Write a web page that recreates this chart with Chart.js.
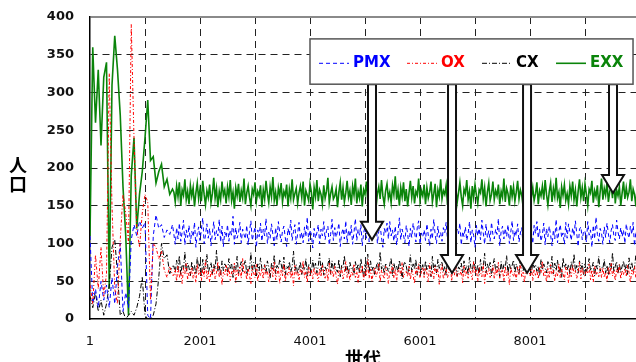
<!DOCTYPE html>
<html><head><meta charset="utf-8">
<script src="https://cdn.jsdelivr.net/npm/chart.js@4"></script>
<style>html,body{margin:0;padding:0;background:#fff;overflow:hidden}canvas{display:block}</style>
</head><body>
<canvas id="c" width="636" height="362"></canvas>
<script>
// ---- data ----
// early phase: one sample every 50 generations from generation 1
// settled phase: one sample every 25 generations from generation 1526
const EARLY_START = 1, EARLY_STEP = 50;
const LATE_START = 1526, LATE_STEP = 25;
const seriesNames = ['PMX', 'OX', 'CX', 'EXX'];

const pmxEarly = [110,20,40,15,50,25,45,15,55,20,70,100,10,35,15,105,125,110,130,120,128,5,0,110,138,120,125,108,118,112,125];
const oxEarly  = [45,20,85,40,95,30,60,325,150,40,20,105,165,140,100,390,240,120,95,140,165,155,25,100,95,80,90,65,55,70,58];
const cxEarly  = [30,15,35,10,25,5,20,45,95,105,60,5,10,0,5,10,5,15,30,55,5,0,0,5,20,55,100,80,85,60,70];
const exxEarly = [110,360,260,330,230,320,340,40,310,375,330,270,175,110,5,190,240,120,165,195,240,290,210,215,180,195,205,175,185,165,172];

const pmxLate = [
112,99,121,106,127,103,115,131,98,118,108,124,101,
116,109,128,95,113,122,104,119,134,100,111,126,107,
120,97,114,129,105,117,110,132,102,123,96,115,108,
125,103,118,111,136,99,121,107,114,128,101,119,112,
106,124,98,116,130,104,113,122,95,118,109,127,103,
119,110,133,100,115,107,126,112,97,121,105,129,114,
102,117,123,108,96,120,111,131,104,116,125,99,113,
128,106,115,101,122,109,135,103,118,112,94,120,107,
114,125,100,119,110,129,105,117,123,98,112,132,104,
121,108,116,127,96,113,120,106,130,101,118,109,124,
99,115,133,104,119,111,125,97,114,122,107,128,102,
117,105,121,112,131,100,116,124,108,95,120,113,127,
106,129,110,118,103,123,98,115,134,105,119,111,101,
124,113,96,120,108,127,116,102,121,130,99,114,109,
118,104,126,111,97,119,106,132,112,100,123,108,115,
103,121,114,128,105,117,125,99,110,136,107,119,113,
127,98,116,109,122,104,113,129,101,118,111,95,124,
110,120,105,131,114,99,126,108,117,103,128,112,106,
119,112,133,97,116,123,106,120,109,125,100,115,130,
104,117,110,126,102,114,121,96,118,111,134,105,122,
115,100,124,113,129,107,119,103,112,127,98,120,109,
123,111,97,118,106,132,101,116,125,108,114,99,128,
107,126,115,104,121,110,130,113,96,119,122,105,117,
116,102,129,111,118,95,124,106,135,112,103,120,114,
99,122,108,127,113,101,117,125,110,104,131,115,106,
121,109,118,100,126,114,107,123,112,128,97,116,111];

const oxLate = [
58,66,50,71,55,63,47,68,60,74,52,61,57,
69,54,62,48,73,59,65,51,67,56,78,53,63,
49,64,57,70,53,61,76,55,66,45,62,58,72,
56,68,51,63,59,74,48,65,57,69,54,80,60,
64,52,67,58,46,70,61,55,73,50,63,57,66,
53,71,59,64,49,62,68,56,75,52,60,67,47,
65,57,73,50,62,58,69,54,64,44,71,59,63,
51,66,60,77,55,63,48,70,57,65,53,68,58,
62,49,67,56,72,60,54,66,50,74,58,63,55,
70,57,46,64,59,68,53,61,76,55,65,51,62,
58,73,55,63,48,67,60,71,52,64,57,79,54,
66,50,61,69,56,62,74,49,65,58,53,70,60,
47,64,59,72,54,66,51,63,68,57,75,55,61,
63,56,70,52,65,58,47,67,60,73,54,62,69,
55,68,61,49,74,57,64,53,70,59,66,46,63,
72,53,60,67,55,62,78,50,65,58,69,56,61,
59,65,48,71,57,63,54,68,61,52,76,60,66,
50,69,62,56,73,47,64,59,67,55,62,71,53,
67,58,75,54,61,66,50,70,57,64,45,68,60,
56,63,52,69,59,74,55,62,48,71,60,65,57,
70,51,66,58,64,53,68,61,77,56,63,49,67,
54,72,59,65,50,62,57,73,55,66,60,52,69,
63,48,67,56,71,60,64,54,62,75,53,68,58,
57,66,61,73,52,65,49,70,59,63,56,67,55,
68,55,62,50,69,58,74,57,64,51,66,60,72,
53,64,59,67,56,71,62,48,65,58,70,54,61];

const cxLate = [
70,61,78,65,84,58,72,66,89,62,74,68,57,
76,64,71,59,82,67,73,56,79,65,70,86,61,
68,75,60,72,66,91,63,70,58,77,64,73,69,
62,80,67,74,55,71,65,83,60,69,76,63,72,
78,59,70,66,88,62,75,68,57,73,64,81,67,
65,72,61,77,69,54,74,66,85,60,71,67,79,
73,63,82,58,70,67,76,62,69,90,64,72,60,
67,76,59,71,65,80,57,73,68,62,78,66,74,
61,70,87,63,75,58,69,64,72,81,60,77,65,
74,66,62,79,56,71,68,84,63,70,59,75,67,
69,58,76,65,73,61,80,67,55,72,66,86,62,
77,64,70,59,68,75,63,89,66,71,60,74,68,
63,72,81,57,74,65,70,62,78,67,53,71,76,
70,60,67,85,62,73,66,79,58,69,75,64,72,
59,77,64,71,68,56,83,65,72,61,79,67,74,
75,63,70,58,80,66,73,60,88,64,71,57,69,
66,74,61,77,65,71,59,82,68,63,76,70,62,
72,58,79,64,69,87,61,73,66,75,57,71,80,
64,70,67,56,76,63,72,68,84,60,74,65,71,
78,61,73,66,59,82,69,64,71,77,62,90,67,
60,75,68,72,63,70,57,79,65,73,67,61,76,
71,66,83,60,74,64,78,62,70,55,81,68,73,
65,72,59,76,67,86,63,71,61,77,66,74,58,
73,62,70,80,64,68,75,57,72,66,83,63,69,
67,79,61,71,58,74,65,88,62,70,76,60,73,
62,70,77,64,72,59,81,66,75,63,68,85,66];

const exxLate = [
168,155,176,162,181,150,171,164,185,158,169,152,177,
163,174,149,167,180,159,172,156,183,165,151,170,161,
178,154,166,187,160,173,148,169,158,182,164,171,153,
175,162,184,157,168,146,174,163,179,155,170,160,186,
152,167,176,161,150,172,165,181,156,169,163,177,148,
171,159,183,166,154,175,162,188,157,168,151,174,164,
180,155,169,163,178,149,172,160,185,158,166,173,153,
167,176,161,182,150,170,164,157,179,168,145,174,162,
184,156,171,165,152,177,160,169,187,154,166,175,159,
163,172,148,168,181,158,174,155,167,183,161,170,151,
176,164,186,153,169,160,178,149,171,165,182,157,168,
155,173,162,180,147,166,175,159,184,163,152,170,179,
160,168,154,177,165,189,158,171,150,174,162,181,156,
172,149,167,183,161,176,153,169,164,186,157,170,163,
178,152,174,160,168,182,155,166,179,148,171,162,185,
159,170,165,177,151,173,163,187,156,168,175,154,167,
181,162,150,172,166,184,158,169,146,176,161,178,164,
153,171,167,185,160,174,149,168,180,157,165,182,158,
170,163,178,152,169,161,186,155,173,166,150,177,162,
175,156,168,183,159,171,164,148,179,167,154,172,188,
161,174,157,166,181,152,170,163,176,158,184,165,151,
169,180,155,173,162,187,160,168,147,175,164,178,157,
166,152,176,163,182,158,171,149,169,185,161,174,156,
179,165,150,172,167,183,154,170,162,177,148,168,186,
158,173,164,181,155,169,176,160,188,153,171,163,175,
150,167,182,159,174,161,168,185,156,172,165,149,179];

const xTickValues = [1,1001,2001,3001,4001,5001,6001,7001,8001,9001];
const xTickLabels = ['1','','2001','','4001','','6001','','8001',''];
const yTickValues = [0,50,100,150,200,250,300,350,400];

const xTitle = '世代';
const yTitle = ['人', '口'];

// ---- annotation placement (data coordinates) ----
const legendBox = {x0: 4001, x1: 9874, yTop: 371, yBottom: 311, yMid: 340};
const legendSampleX = [4165, 5765, 7128, 8474];
const arrows = [{x: 5128, tip: 105}, {x: 6583, tip: 61}, {x: 7947, tip: 61}, {x: 9510, tip: 167}];

// ---- styles ----
const colors = ['#0000ff', '#ff0000', '#000000', '#0a840a'];
const dashes = [[4,3], [3,2,1,2], [5,2,1,2], []];
const widths = [1, 1, 1, 1.6];

const seriesEarly = [pmxEarly, oxEarly, cxEarly, exxEarly];
const seriesLate = [pmxLate, oxLate, cxLate, exxLate];

function toPoints(early, late) {
  const pts = early.map((v, i) => ({x: EARLY_START + i * EARLY_STEP, y: v}));
  late.forEach((v, j) => pts.push({x: LATE_START + j * LATE_STEP, y: v}));
  return pts;
}

const datasets = seriesNames.map((name, k) => ({
  label: name,
  data: toPoints(seriesEarly[k], seriesLate[k]),
  borderColor: colors[k],
  borderWidth: widths[k],
  borderDash: dashes[k],
  pointRadius: 0,
  tension: 0,
  fill: false,
  order: [1, 0, 2, 3][k]
}));

const annot = {
  id: 'annot',
  afterDatasetsDraw(chart) {
    const ctx = chart.ctx, xs = chart.scales.x, ys = chart.scales.y;
    const bl = xs.getPixelForValue(legendBox.x0), br = xs.getPixelForValue(legendBox.x1);
    const bt = ys.getPixelForValue(legendBox.yTop), bb = ys.getPixelForValue(legendBox.yBottom);
    ctx.save();
    arrows.forEach(a => {
      const c = xs.getPixelForValue(a.x), tip = ys.getPixelForValue(a.tip);
      const sw = 4, hw = 11, hh = 18, top = bb;
      ctx.beginPath();
      ctx.moveTo(c - sw, top);
      ctx.lineTo(c + sw, top);
      ctx.lineTo(c + sw, tip - hh);
      ctx.lineTo(c + hw, tip - hh);
      ctx.lineTo(c, tip);
      ctx.lineTo(c - hw, tip - hh);
      ctx.lineTo(c - sw, tip - hh);
      ctx.closePath();
      ctx.fillStyle = '#fff';
      ctx.fill();
      ctx.lineWidth = 2;
      ctx.strokeStyle = '#111';
      ctx.setLineDash([]);
      ctx.stroke();
    });
    ctx.fillStyle = '#fff';
    ctx.fillRect(bl, bt, br - bl, bb - bt);
    ctx.lineWidth = 1.5;
    ctx.strokeStyle = '#555';
    ctx.strokeRect(bl, bt, br - bl, bb - bt);
    const ym = ys.getPixelForValue(legendBox.yMid);
    ctx.font = 'bold 15px "DejaVu Sans"';
    ctx.textBaseline = 'middle';
    ctx.textAlign = 'left';
    chart.data.datasets.forEach((ds, k) => {
      const sx = xs.getPixelForValue(legendSampleX[k]);
      ctx.beginPath();
      ctx.setLineDash(ds.borderDash);
      ctx.lineWidth = ds.borderWidth;
      ctx.strokeStyle = ds.borderColor;
      ctx.moveTo(sx, ym + 1);
      ctx.lineTo(sx + 30, ym + 1);
      ctx.stroke();
      ctx.setLineDash([]);
      ctx.fillStyle = ds.borderColor;
      ctx.fillText(ds.label, sx + 34, ym + 1);
    });
    ctx.restore();
  },
  afterDraw(chart) {
    const ctx = chart.ctx, area = chart.chartArea;
    ctx.save();
    ctx.fillStyle = '#000';
    ctx.font = 'bold 18px "Noto Sans CJK JP"';
    ctx.textAlign = 'center';
    ctx.textBaseline = 'middle';
    ctx.fillText(yTitle[0], 18, 165);
    ctx.fillText(yTitle[1], 18, 184);
    ctx.fillText(xTitle, (area.left + area.right) / 2, 358);
    ctx.restore();
  }
};

new Chart(document.getElementById('c'), {
  type: 'line',
  data: {datasets},
  plugins: [annot],
  options: {
    responsive: false,
    animation: false,
    devicePixelRatio: 1,
    layout: {padding: {top: 17, right: 0, left: 0, bottom: 0}},
    plugins: {legend: {display: false}, tooltip: {enabled: false}},
    scales: {
      x: {
        type: 'linear',
        min: 1,
        max: 9928,
        afterBuildTicks: s => { s.ticks = xTickValues.map(v => ({value: v})); },
        afterFit: s => { s.height = 43; s.paddingLeft = 0; s.paddingRight = 0; },
        ticks: {
          autoSkip: false,
          maxRotation: 0,
          padding: 15,
          color: '#111',
          font: {family: 'DejaVu Sans', size: 13},
          callback: (v) => xTickLabels[xTickValues.indexOf(v)] ?? ''
        },
        grid: {
          drawTicks: false,
          color: c => (c.tick && c.tick.value === 1) ? 'rgba(0,0,0,0)' : '#222',
          lineWidth: 1
        },
        border: {display: true, color: '#000', width: 1.5, dash: [7, 5]}
      },
      y: {
        min: 0,
        max: 400,
        afterBuildTicks: s => { s.ticks = yTickValues.map(v => ({value: v})); },
        afterFit: s => { s.width = 90; s.paddingTop = 0; s.paddingBottom = 0; },
        ticks: {
          padding: 16,
          color: '#111',
          font: {family: 'DejaVu Sans', size: 13, weight: 'bold'}
        },
        grid: {
          drawTicks: false,
          color: c => {
            if (!c.tick) return '#222';
            if (c.tick.value === 0) return 'rgba(0,0,0,0)';
            if (c.tick.value === 400) return '#8a8a8a';
            return '#222';
          },
          lineWidth: c => (c.tick && c.tick.value === 400) ? 2 : 1
        },
        border: {
          display: true, color: '#000', width: 1.5,
          dash: c => (c.tick && c.tick.value === 400) ? [] : [7, 5]
        }
      }
    }
  }
});
</script>
</body></html>
